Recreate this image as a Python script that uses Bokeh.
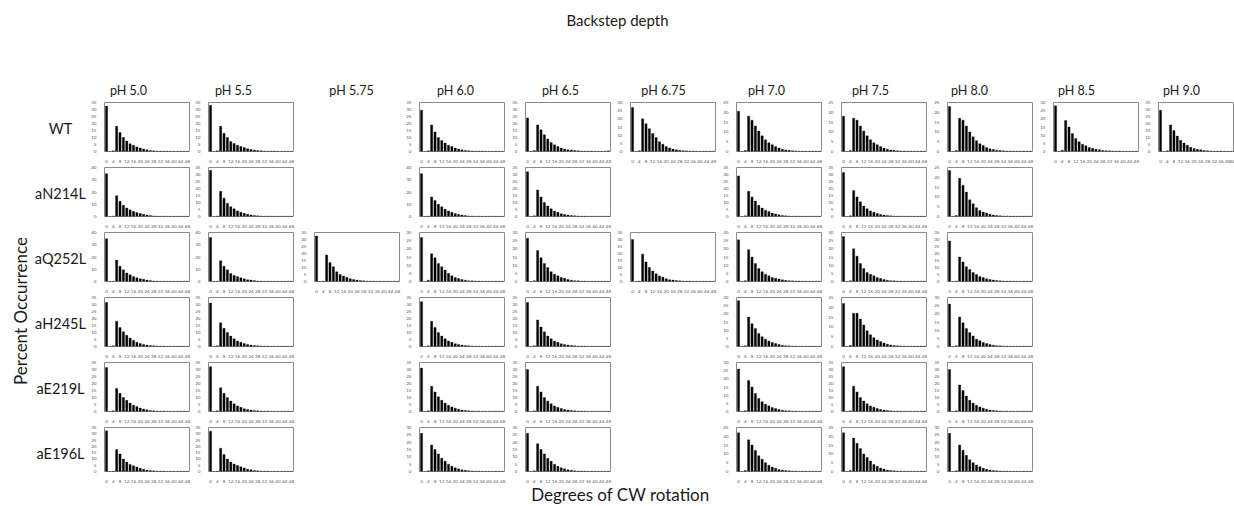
import math
from bokeh.plotting import figure
from bokeh.layouts import column, row
from bokeh.models import Spacer, Range1d, FixedTicker, ColumnDataSource
from bokeh.embed import file_html
from bokeh.resources import INLINE
from bokeh.core.properties import value

# ---------------- data ----------------
ph_labels = ["pH 5.0", "pH 5.5", "pH 5.75", "pH 6.0", "pH 6.5", "pH 6.75",
             "pH 7.0", "pH 7.5", "pH 8.0", "pH 8.5", "pH 9.0"]
strains = ["WT", "aN214L", "aQ252L", "aH245L", "aE219L", "aE196L"]
degrees = [0, 2, 4, 6, 8, 10, 12, 14, 16, 18, 20, 22, 24, 26, 28, 30, 32, 34, 36, 38, 40, 42, 44, 46, 48]
x_tick_values = [0, 4, 8, 12, 16, 20, 24, 28, 32, 36, 40, 44, 48]

# WT
wt_50 = [32.5, 0, 0.5, 18, 13.5, 10, 7.5, 5.5, 4.5, 3.3, 2.5, 1.8, 1.2, 0.8, 0.5, 0.4, 0.3, 0.3, 0.3, 0.2, 0.2, 0.2, 0.2, 0.2, 0.2]
wt_55 = [33, 0, 0.5, 18, 13, 10, 7.2, 5.8, 4.5, 3.5, 2.8, 2, 1.4, 1, 0.7, 0.5, 0.4, 0.3, 0.3, 0.3, 0.2, 0.2, 0.2, 0.2, 0.2]
wt_60 = [29.5, 0, 0.5, 19, 14, 10, 7.8, 6, 4.5, 3.5, 2.5, 1.8, 1.2, 0.8, 0.6, 0.4, 0.3, 0.3, 0.3, 0.2, 0.2, 0.2, 0.2, 0.2, 0.2]
wt_65 = [24, 0, 0.8, 19, 15.5, 12, 9, 6.5, 4.8, 3.5, 2.5, 1.8, 1.3, 1, 0.7, 0.5, 0.4, 0.3, 0.3, 0.3, 0.2, 0.2, 0.2, 0.2, 0.5]
wt_675 = [27, 0, 0.5, 20, 17, 14, 11, 8.5, 6, 4.5, 3, 2.2, 1.5, 1, 0.7, 0.5, 0.4, 0.3, 0.3, 0.2, 0.2, 0.2, 0.2, 0.2, 0.2]
wt_70 = [20.5, 0, 0.5, 18, 16, 13, 10.5, 8, 6, 4.5, 3.5, 2.5, 1.8, 1.2, 0.8, 0.6, 0.4, 0.3, 0.3, 0.2, 0.2, 0.2, 0.2, 0.2, 0.2]
wt_75 = [18, 0, 0.5, 17, 16, 13, 10.5, 8, 6, 4.5, 3.5, 2.5, 1.8, 1.2, 0.8, 0.6, 0.4, 0.3, 0.3, 0.2, 0.2, 0.2, 0.2, 0.2, 0.2]
wt_80 = [23, 0, 0.5, 17, 16, 13, 10, 7.5, 5.5, 4, 3, 2, 1.4, 1, 0.7, 0.5, 0.4, 0.3, 0.3, 0.2, 0.2, 0.2, 0.2, 0.2, 0.2]
wt_85 = [28, 0, 0.8, 19, 15, 11, 8, 6, 4.5, 3.5, 2.5, 2, 1.4, 1, 0.6, 0.5, 0.4, 0.3, 0.3, 0.3, 0.2, 0.2, 0.2, 0.2, 0.2]
wt_90 = [29.5, 0, 0.5, 19, 15, 11, 8, 6, 4.5, 3, 2.2, 1.6, 1.2, 0.8, 0.6, 0.4, 0.3, 0.3, 0.3, 0.2, 0.2, 0.2, 0.2, 0.2, 0.2]
# aN214L
n214_50 = [35, 0, 0.3, 17, 12.5, 9.2, 7, 5.5, 4.2, 3.2, 2.5, 1.8, 1.2, 0.8, 0.5, 0.4, 0.3, 0.3, 0.2, 0.2, 0.2, 0.2, 0.2, 0.2, 0.2]
n214_55 = [33, 0, 0.3, 18, 13, 9.5, 7, 5.5, 4, 3, 2.3, 1.6, 1.1, 0.7, 0.5, 0.4, 0.3, 0.3, 0.2, 0.2, 0.2, 0.2, 0.2, 0.2, 0.2]
n214_60 = [35, 0, 0.3, 16, 13, 10, 8, 6, 4.5, 3.5, 2.5, 1.8, 1.2, 0.8, 0.5, 0.4, 0.3, 0.3, 0.2, 0.2, 0.2, 0.2, 0.2, 0.2, 0.2]
n214_65 = [32, 0, 0.5, 19, 14, 10, 7.5, 5.5, 4, 3, 2, 1.5, 1, 0.7, 0.5, 0.4, 0.3, 0.3, 0.2, 0.2, 0.2, 0.2, 0.2, 0.2, 0.2]
n214_70 = [29, 0, 0.5, 18, 14, 11, 8, 6, 4.5, 3.5, 2.5, 1.8, 1.2, 0.8, 0.5, 0.4, 0.3, 0.3, 0.2, 0.2, 0.2, 0.2, 0.2, 0.2, 0.2]
n214_75 = [31.5, 0, 0.5, 18.5, 14, 10.5, 7.5, 5.5, 4, 3, 2.2, 1.5, 1, 0.7, 0.5, 0.4, 0.3, 0.3, 0.2, 0.2, 0.2, 0.2, 0.2, 0.2, 0.2]
n214_80 = [23.5, 0, 0.5, 19.5, 16, 12.5, 8.5, 6.5, 4.5, 3, 2.3, 1.8, 1.2, 0.8, 0.5, 0.4, 0.3, 0.3, 0.2, 0.2, 0.2, 0.2, 0.2, 0.2, 0.2]
# aQ252L
q252_50 = [35, 0, 0.3, 17.5, 12.5, 9.5, 7, 5.5, 4, 3, 2.3, 1.8, 1.2, 0.8, 0.5, 0.4, 0.3, 0.3, 0.2, 0.2, 0.2, 0.2, 0.2, 0.2, 0.2]
q252_55 = [36, 0, 0.3, 17, 12.5, 9.5, 6.5, 5, 4, 3, 2.2, 1.5, 1.2, 0.8, 0.5, 0.4, 0.3, 0.3, 0.2, 0.2, 0.2, 0.2, 0.2, 0.2, 0.2]
q252_575 = [32.5, 0, 0.3, 19, 13.5, 10.5, 7, 5, 4, 3, 2, 1.5, 1, 0.7, 0.5, 0.4, 0.3, 0.3, 0.2, 0.2, 0.2, 0.2, 0.2, 0.2, 0.2]
q252_60 = [27, 0, 0.8, 17, 14.5, 11, 9, 7, 5, 3.5, 2.5, 1.8, 1.2, 0.8, 0.5, 0.4, 0.3, 0.3, 0.2, 0.2, 0.2, 0.2, 0.2, 0.2, 0.2]
q252_65 = [26.5, 0, 0.5, 19, 14.5, 11, 8.5, 6, 4.5, 3.5, 2.5, 2, 1.3, 0.8, 0.5, 0.4, 0.3, 0.3, 0.2, 0.2, 0.2, 0.2, 0.2, 0.2, 0.2]
q252_675 = [30, 0, 0.3, 19.5, 14, 10, 7.5, 5.5, 4, 3, 2, 1.3, 1, 0.7, 0.5, 0.4, 0.3, 0.3, 0.2, 0.2, 0.2, 0.2, 0.2, 0.2, 0.2]
q252_70 = [25.5, 0, 0.5, 19.5, 15, 11, 8, 6, 4.5, 3.5, 2.5, 2, 1.5, 1, 0.7, 0.5, 0.4, 0.3, 0.3, 0.2, 0.2, 0.2, 0.2, 0.2, 0.2]
q252_75 = [27.5, 0, 0.5, 20, 15.5, 11, 8, 5.5, 4.5, 3.5, 2.5, 1.8, 1.2, 0.8, 0.5, 0.4, 0.3, 0.3, 0.2, 0.2, 0.2, 0.2, 0.2, 0.2, 0.2]
q252_80 = [29, 0, 0.3, 17.5, 14, 10.5, 8.5, 6.5, 5, 3.5, 2.8, 2, 1.5, 1, 0.7, 0.5, 0.4, 0.3, 0.3, 0.2, 0.2, 0.2, 0.2, 0.2, 0.2]
# aH245L
h245_50 = [31.5, 0, 0.5, 18, 13.5, 10.5, 8, 6, 4.5, 3, 2.2, 1.5, 1, 0.7, 0.5, 0.4, 0.3, 0.3, 0.2, 0.2, 0.2, 0.2, 0.2, 0.2, 0.2]
h245_55 = [31, 0, 0.5, 17, 13, 10, 7.5, 5.5, 4, 3, 2.2, 1.5, 1, 0.7, 0.5, 0.4, 0.3, 0.3, 0.2, 0.2, 0.2, 0.2, 0.2, 0.2, 0.2]
h245_60 = [32, 0, 0.5, 18, 13.5, 10, 7.5, 5.5, 4, 3, 2, 1.5, 1, 0.7, 0.5, 0.4, 0.3, 0.3, 0.2, 0.2, 0.2, 0.2, 0.2, 0.2, 0.2]
h245_65 = [31.5, 0, 0.5, 19, 14, 10.5, 7.5, 5.5, 4, 3, 2, 1.5, 1, 0.7, 0.5, 0.4, 0.3, 0.3, 0.2, 0.2, 0.2, 0.2, 0.2, 0.2, 0.2]
h245_70 = [28, 0, 0.5, 18, 14, 11, 8, 6, 4.5, 3.3, 2.5, 1.8, 1.2, 0.8, 0.5, 0.4, 0.3, 0.3, 0.2, 0.2, 0.2, 0.2, 0.2, 0.2, 0.2]
h245_75 = [22, 0, 0.5, 17, 17, 14, 11, 8, 6, 4.5, 3.3, 2.5, 1.8, 1.2, 0.8, 0.5, 0.4, 0.3, 0.2, 0.2, 0.2, 0.2, 0.2, 0.2, 0.2]
h245_80 = [26, 0, 0.5, 18, 14.5, 11, 8.5, 6.5, 4.5, 3.5, 2.5, 1.8, 1.2, 0.8, 0.5, 0.4, 0.3, 0.3, 0.2, 0.2, 0.2, 0.2, 0.2, 0.2, 0.2]
# aE219L
e219_50 = [31.5, 0, 0.5, 16.5, 13, 10, 8, 6, 4.5, 3.5, 2.5, 1.8, 1.2, 0.8, 0.5, 0.4, 0.3, 0.3, 0.2, 0.2, 0.2, 0.2, 0.2, 0.2, 0.2]
e219_55 = [32, 0, 0.5, 17, 13, 10, 7.5, 5.5, 4, 3, 2, 1.5, 1, 0.7, 0.5, 0.4, 0.3, 0.3, 0.2, 0.2, 0.2, 0.2, 0.2, 0.2, 0.2]
e219_60 = [31, 0, 0.5, 18, 14, 10.5, 8, 6, 4.5, 3.3, 2.3, 1.6, 1.1, 0.7, 0.5, 0.4, 0.3, 0.3, 0.2, 0.2, 0.2, 0.2, 0.2, 0.2, 0.2]
e219_65 = [30, 0, 0.5, 18, 14, 10, 7.5, 5.5, 4, 3, 2.2, 1.5, 1, 0.7, 0.5, 0.4, 0.3, 0.3, 0.2, 0.2, 0.2, 0.2, 0.2, 0.2, 0.2]
e219_70 = [26, 0, 0.5, 19, 15, 11, 8, 6, 4.5, 3.5, 2.5, 1.8, 1.2, 0.8, 0.5, 0.4, 0.3, 0.3, 0.2, 0.2, 0.2, 0.2, 0.2, 0.2, 0.2]
e219_75 = [32, 0, 0.5, 18, 14, 10, 7.5, 5.5, 4, 3, 2.2, 1.5, 1, 0.7, 0.5, 0.4, 0.3, 0.3, 0.2, 0.2, 0.2, 0.2, 0.2, 0.2, 0.2]
e219_80 = [30, 0, 0.5, 19, 15, 11, 8, 6, 4.5, 3.3, 2.3, 1.6, 1.1, 0.7, 0.5, 0.4, 0.3, 0.3, 0.2, 0.2, 0.2, 0.2, 0.2, 0.2, 0.2]
# aE196L
e196_50 = [32.5, 0, 0.3, 17.5, 14, 10, 7.5, 5.5, 4.5, 3.5, 2.5, 1.8, 1.2, 0.8, 0.5, 0.4, 0.3, 0.3, 0.2, 0.2, 0.2, 0.2, 0.2, 0.2, 0.2]
e196_55 = [32, 0, 0.3, 18.5, 13.5, 10, 7.5, 6, 4.8, 3.8, 2.8, 1.8, 1.3, 0.8, 0.5, 0.4, 0.3, 0.3, 0.2, 0.2, 0.2, 0.2, 0.2, 0.2, 0.2]
e196_60 = [26, 0, 0.5, 18, 15, 12, 9, 7, 5, 3.5, 2.5, 1.8, 1.2, 0.8, 0.5, 0.4, 0.3, 0.3, 0.2, 0.2, 0.2, 0.2, 0.2, 0.2, 0.2]
e196_65 = [26, 0, 0.5, 19, 15, 12, 9, 7, 5, 3.5, 2.5, 1.8, 1.2, 0.8, 0.5, 0.4, 0.3, 0.3, 0.2, 0.2, 0.2, 0.2, 0.2, 0.2, 0.2]
e196_70 = [22, 0, 0.5, 18, 15, 12, 9, 7, 5, 3.5, 2.5, 1.8, 1.2, 0.8, 0.5, 0.4, 0.3, 0.3, 0.2, 0.2, 0.2, 0.2, 0.2, 0.2, 0.2]
e196_75 = [22, 0, 0.5, 19, 16, 13, 10, 8, 6, 4, 3, 2, 1.4, 0.9, 0.6, 0.4, 0.3, 0.3, 0.2, 0.2, 0.2, 0.2, 0.2, 0.2, 0.2]
e196_80 = [26, 0, 0.5, 18, 14.5, 11, 8, 6, 4.5, 3.3, 2.3, 1.6, 1.1, 0.7, 0.5, 0.4, 0.3, 0.3, 0.2, 0.2, 0.2, 0.2, 0.2, 0.2, 0.2]

# y-axis maximum per panel (None = no panel), columns follow ph_labels
wt_ymax    = [35, 35, None, 35, 35, 30, 25, 25, 25, 30, 35]
n214_ymax  = [40, 35, None, 40, 35, None, 35, 35, 25, None, None]
q252_ymax  = [40, 40, 35, 30, 30, 35, 30, 30, 35, None, None]
h245_ymax  = [35, 35, None, 35, 35, None, 30, 25, 30, None, None]
e219_ymax  = [35, 35, None, 35, 35, None, 30, 35, 35, None, None]
e196_ymax  = [35, 35, None, 30, 30, None, 25, 25, 30, None, None]

wt_series   = [wt_50, wt_55, None, wt_60, wt_65, wt_675, wt_70, wt_75, wt_80, wt_85, wt_90]
n214_series = [n214_50, n214_55, None, n214_60, n214_65, None, n214_70, n214_75, n214_80, None, None]
q252_series = [q252_50, q252_55, q252_575, q252_60, q252_65, q252_675, q252_70, q252_75, q252_80, None, None]
h245_series = [h245_50, h245_55, None, h245_60, h245_65, None, h245_70, h245_75, h245_80, None, None]
e219_series = [e219_50, e219_55, None, e219_60, e219_65, None, e219_70, e219_75, e219_80, None, None]
e196_series = [e196_50, e196_55, None, e196_60, e196_65, None, e196_70, e196_75, e196_80, None, None]

row_series = [wt_series, n214_series, q252_series, h245_series, e219_series, e196_series]
row_ymax = [wt_ymax, n214_ymax, q252_ymax, h245_ymax, e219_ymax, e196_ymax]

# ---------------- layout ----------------
W, H = 1234, 506
TOP_H = 100
ROW_H = 65
BORDER_T, BORDER_B = 2, 14
LAST_CUT = 5
FRAME_W = 89
PAD_L = 12
frame_left = [100, 204, 310, 415, 521, 626, 732, 837, 943, 1049, 1154]
header_x = [128, 233, 351, 455, 560, 663, 766, 870, 969, 1076, 1181]
X0, X1 = -1.2, 49.2
FONT = "Lato"

def col_width(col):
    start = frame_left[col] - PAD_L
    end = frame_left[col + 1] - PAD_L if col + 1 < len(frame_left) else W
    return end - start

def make_panel(vals, ymax, col, last):
    width = col_width(col)
    fw = min(FRAME_W, width - PAD_L)
    right = width - PAD_L - fw
    xend = X0 + (X1 - X0) * fw / FRAME_W
    h = ROW_H - (LAST_CUT if last else 0)
    bb = BORDER_B - (LAST_CUT if last else 0)
    p = figure(width=width, height=h, x_range=Range1d(X0, xend), y_range=Range1d(0, ymax),
               output_backend="svg", toolbar_location=None,
               min_border_left=PAD_L, min_border_right=right,
               min_border_top=BORDER_T, min_border_bottom=bb)
    src = ColumnDataSource(dict(x=degrees, top=vals))
    p.vbar(x="x", top="top", width=1.3, source=src, fill_color="black", line_color="black", line_width=0.3)
    p.xgrid.visible = False
    p.ygrid.visible = False
    p.outline_line_color = "#8a8a8a"
    p.outline_line_width = 1
    step = 10 if ymax >= 40 else 5
    p.xaxis.ticker = FixedTicker(ticks=[t for t in x_tick_values if t <= xend + 0.5])
    p.yaxis.ticker = FixedTicker(ticks=list(range(0, ymax + 1, step)))
    for ax in p.axis:
        ax.axis_line_color = None
        ax.major_tick_line_color = None
        ax.minor_tick_line_color = None
        ax.major_label_text_font_size = "4.6px"
        ax.major_label_text_color = "#595959"
        ax.major_label_text_font = FONT
        ax.major_label_standoff = 2
    return p

def blank(col, last):
    return Spacer(width=col_width(col), height=ROW_H - (LAST_CUT if last else 0))

def text_fig(width, height):
    f = figure(width=width, height=height, x_range=Range1d(0, width), y_range=Range1d(height, 0),
               output_backend="svg", toolbar_location=None, min_border=0,
               x_axis_location=None, y_axis_location=None)
    f.xgrid.visible = False
    f.ygrid.visible = False
    f.outline_line_color = None
    return f

# top: title + column headers
top = text_fig(W, TOP_H)
top.text(x=[W / 2], y=[19], text=["Backstep depth"], text_align="center", text_baseline="middle",
         text_font=value(FONT), text_font_size="15px", text_color="#1a1a1a")
top.text(x=header_x, y=[90] * len(ph_labels), text=ph_labels, text_align="center", text_baseline="middle",
         text_font=value(FONT), text_font_size="12.5px", text_color="#1a1a1a")

# left: y label + row labels
LEFT_W = frame_left[0] - PAD_L
grid_h = ROW_H * len(strains) - LAST_CUT
left = text_fig(LEFT_W, grid_h)
row_y = [i * ROW_H + BORDER_T + (ROW_H - BORDER_T - BORDER_B) / 2 + 1 for i in range(len(strains))]
left.text(x=[60] * len(strains), y=row_y, text=strains, text_align="center", text_baseline="middle",
          text_font=value(FONT), text_font_size="14.5px", text_color="#1a1a1a")
left.text(x=[20], y=[grid_h / 2 + 18], text=["Percent Occurrence"], angle=math.pi / 2,
          text_align="center", text_baseline="middle",
          text_font=value(FONT), text_font_size="17px", text_color="#1a1a1a")

rows = []
n_rows = len(strains)
for r in range(n_rows):
    last = (r == n_rows - 1)
    kids = []
    for c in range(len(ph_labels)):
        vals = row_series[r][c]
        if vals is None:
            kids.append(blank(c, last))
        else:
            kids.append(make_panel(vals, row_ymax[r][c], c, last))
    rows.append(row(*kids, spacing=0))
grid = column(*rows, spacing=0)

bottom_h = H - TOP_H - grid_h
bottom = text_fig(W, bottom_h)
bottom.text(x=[620], y=[9], text=["Degrees of CW rotation"], text_align="center", text_baseline="middle",
            text_font=value(FONT), text_font_size="17px", text_color="#1a1a1a")

layout = column(top, row(left, grid, spacing=0), bottom, spacing=0)

open("out.html", "w").write(file_html(layout, INLINE))
